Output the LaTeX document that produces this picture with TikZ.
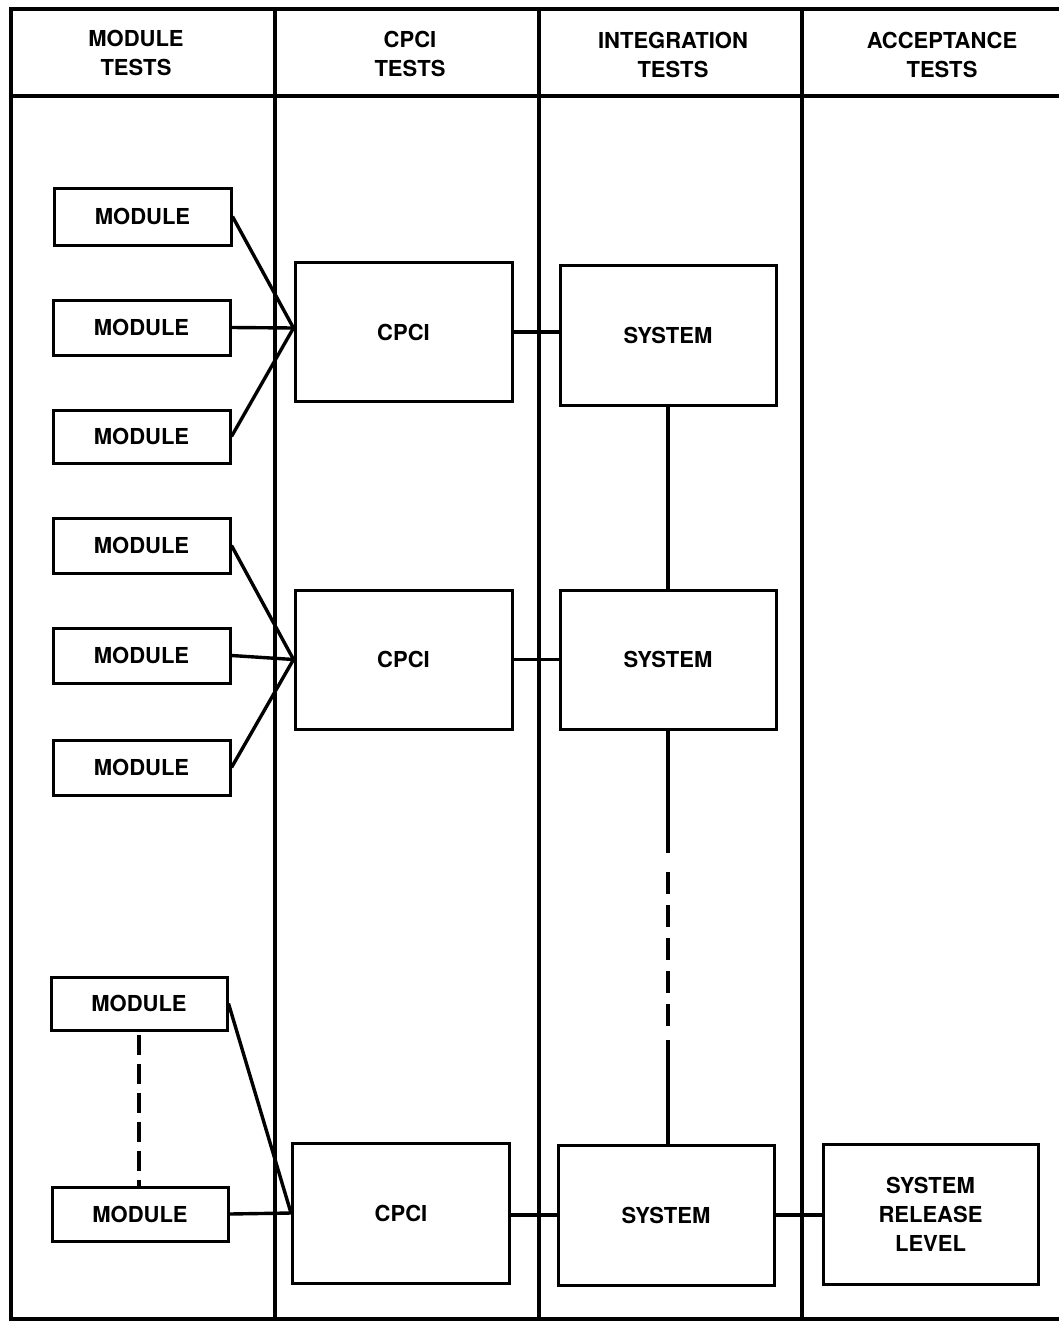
\documentclass[tikz,border=0pt]{standalone}
\usepackage{fontspec}
\setmainfont{TeX Gyre Heros}
\usetikzlibrary{calc}
\begin{document}
\begin{tikzpicture}[x=1pt,y=-1pt,
  frame/.style={line width=3.6pt},
  box/.style={draw,line width=3pt,rectangle,inner sep=0pt,align=center,
    font=\fontsize{22}{29}\selectfont\bfseries},
  modbox/.style={box,minimum width=177pt,minimum height=55pt},
  bigbox/.style={box,minimum width=217pt,minimum height=139pt},
  head/.style={align=center,font=\fontsize{22}{29.5}\selectfont\bfseries},
  conn/.style={line width=3.4pt},
  dashconn/.style={line width=3.4pt,dash pattern=on 20pt off 9pt}]
\useasboundingbox (0,0) rectangle (1059,1322);
\fill[white] (0,0) rectangle (1059,1322);
% frame
\draw[frame] (1059,9) -- (11,9) -- (11,1319) -- (1059,1319);
\draw[frame] (11,96) -- (1059,96);
\draw[frame] (275,9) -- (275,1319);
\draw[frame] (539,9) -- (539,1319);
\draw[frame] (802,9) -- (802,1319);
% headers
\node[head] (h1) at (136,53) {MODULE\\TESTS};
\node[head] (h2) at (410,54) {CPCI\\TESTS};
\node[head] (h3) at (673,55) {INTEGRATION\\TESTS};
\node[head] (h4) at (942,55) {ACCEPTANCE\\TESTS};
% modules
\node[modbox,minimum height=57pt] (m1) at (142.5,216.5) {MODULE};
\node[modbox] (m2) at (141.5,327.5) {MODULE};
\node[modbox,minimum height=53pt] (m3) at (141.5,436.5) {MODULE};
\node[modbox] (m4) at (141.5,545.5) {MODULE};
\node[modbox] (m5) at (141.5,655.5) {MODULE};
\node[modbox] (m6) at (141.5,767.5) {MODULE};
\node[modbox,minimum width=176pt,minimum height=53pt] (m7) at (139,1003.5) {MODULE};
\node[modbox,minimum width=176pt,minimum height=54pt] (m8) at (140,1214) {MODULE};
% CPCI
\node[bigbox] (c1) at (403.5,332) {CPCI};
\node[bigbox] (c2) at (403.5,659.5) {CPCI};
\node[bigbox,minimum height=140pt] (c3) at (401,1213) {CPCI};
% systems
\node[bigbox,minimum width=216pt,minimum height=140pt] (s1) at (668,335) {SYSTEM};
\node[bigbox,minimum width=216pt] (s2) at (668,659.5) {SYSTEM};
\node[bigbox,minimum width=216pt,minimum height=140pt] (s3) at (666,1215) {SYSTEM};
\node[bigbox,minimum width=215pt,minimum height=140pt] (srl) at (930.5,1214) {SYSTEM\\RELEASE\\LEVEL};
% module -> CPCI
\coordinate (j1) at ($(c1.west)+(0,-4)$);
\draw[conn] (m1.east) -- (j1);
\draw[conn] (m2.east) -- (j1);
\draw[conn] (m3.east) -- (j1);
\draw[conn] (m4.east) -- (c2.west);
\draw[conn] (m5.east) -- (c2.west);
\draw[conn] (m6.east) -- (c2.west);
\draw[conn] (m7.east) -- (c3.west);
\draw[conn] (m8.east) -- (c3.west);
\draw[dashconn,dash phase=-3pt] (m7.south) -- (m7.south |- m8.north);
% CPCI -> system
\draw[conn] (c1.east) -- (c1.east -| s1.west);
\draw[conn] (c2.east) -- (s2.west);
\draw[conn] (c3.east |- s3.west) -- (s3.west);
\draw[conn] (s3.east) -- (s3.east -| srl.west);
% system chain
\draw[conn] (s1.south) -- (s2.north);
\coordinate (d1) at (668,853);
\coordinate (d2) at (668,872);
\coordinate (d3) at (668,1027);
\coordinate (d4) at (668,1040);
\draw[conn] (s2.south) -- (d1);
\draw[conn,dash pattern=on 22pt off 11pt] (d2) -- (d3);
\draw[conn] (d4) -- (d4 |- s3.north);
\end{tikzpicture}
\end{document}
